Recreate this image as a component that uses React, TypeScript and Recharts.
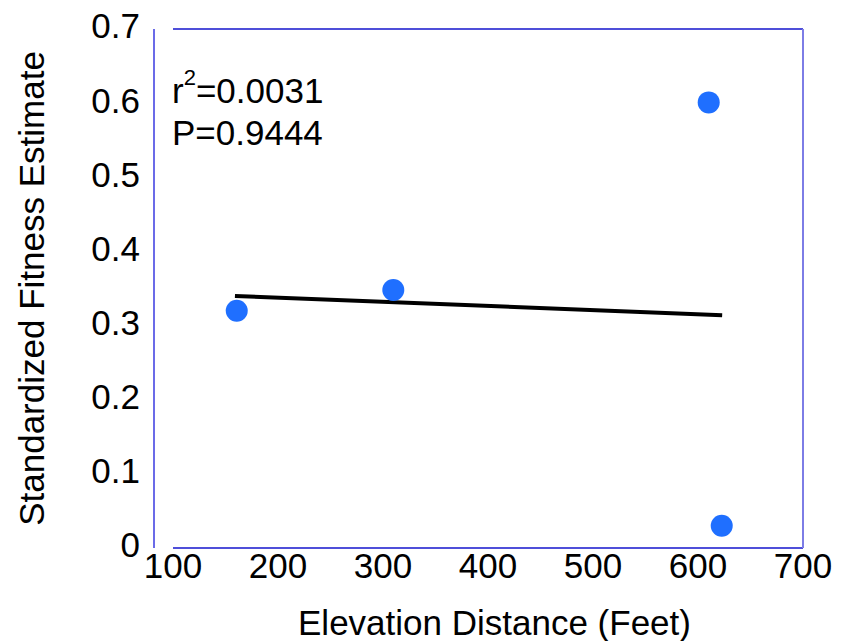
import React from 'react';
import { ScatterChart, Scatter, XAxis, YAxis, Label, ReferenceLine, Customized } from 'recharts';

const elevation = [160.7, 309.8, 610.2, 622.6];
const fitness = [0.32, 0.348, 0.601, 0.03];
const fitX = [159, 623];
const fitY = [0.34, 0.314];
const xTicks = [100, 200, 300, 400, 500, 600, 700];
const yTicks = [0, 0.1, 0.2, 0.3, 0.4, 0.5, 0.6, 0.7];

const points = elevation.map((x, i) => ({ x, y: fitness[i] }));
const fitLine = fitX.map((x, i) => ({ x, y: fitY[i] }));

const font = '"Liberation Sans", Arial, sans-serif';
const frame = '#1414cc';
const fs = 35;

const Stats = () => (
	<g fontFamily={font} fill="#000">
		<text x={172} y={103} fontSize={fs}>
			r<tspan fontSize={22} dy={-18}>2</tspan>
			<tspan dy={18}>=0.0031</tspan>
		</text>
		<text x={172} y={145} fontSize={fs}>P=0.9444</text>
	</g>
);

const noTick = () => <g />;

const YTick = (p: any) => (
	<text x={p.x} y={p.y - 3} dy="0.355em" textAnchor="end" fontSize={fs} fontFamily={font} fill="#000">
		{p.payload.value}
	</text>
);

export default function App() {
	return (
		<div style={{ position: 'absolute', left: 0, top: 0 }}>
			<ScatterChart width={852} height={641} margin={{ top: 29, right: 49, left: 0, bottom: 0 }}>
				<XAxis
					xAxisId="bottom"
					type="number"
					dataKey="x"
					domain={[81.9, 700]}
					allowDataOverflow
					ticks={xTicks}
					height={93}
					axisLine={false}
					tickLine={false}
					tickSize={0}
					tickMargin={5}
					tick={{ fontSize: fs, fill: '#000', fontFamily: font }}
				>
					<Label
						value="Elevation Distance (Feet)"
						position="insideBottom"
						offset={6}
						dx={16}
						style={{ fontSize: fs, fill: '#000', fontFamily: font }}
					/>
				</XAxis>
				<YAxis
					yAxisId="left"
					type="number"
					dataKey="y"
					domain={[0, 0.7]}
					ticks={yTicks}
					width={154}
					axisLine={{ stroke: '#3a3ae0', strokeWidth: 1.5 }}
					tickLine={false}
					tickSize={0}
					tickMargin={14}
					tick={YTick}
				>
					<Label
						value="Standardized Fitness Estimate"
						angle={-90}
						position="insideLeft"
						offset={32}
						style={{ fontSize: fs, fill: '#000', fontFamily: font, textAnchor: 'middle' }}
					/>
				</YAxis>
				<YAxis
					yAxisId="leftIn"
					type="number"
					dataKey="y"
					domain={[0, 0.7]}
					ticks={yTicks}
					mirror
					axisLine={false}
					tickLine={{ stroke: frame, strokeWidth: 1.5 }}
					tickSize={11}
					tick={noTick}
				/>
				<YAxis
					yAxisId="right"
					orientation="right"
					type="number"
					dataKey="y"
					domain={[0, 0.7]}
					ticks={yTicks}
					mirror
					axisLine={{ stroke: '#7d7de6', strokeWidth: 2 }}
					tickLine={{ stroke: frame, strokeWidth: 1.5 }}
					tickSize={11}
					tick={noTick}
				/>
				<ReferenceLine
					xAxisId="bottom"
					yAxisId="left"
					segment={[{ x: 100, y: 0 }, { x: 700, y: 0 }]}
					stroke={frame}
					strokeWidth={1.5}
				/>
				<ReferenceLine
					xAxisId="bottom"
					yAxisId="left"
					segment={[{ x: 100, y: 0.7 }, { x: 700, y: 0.7 }]}
					stroke={frame}
					strokeWidth={1.5}
				/>
				<Scatter
					xAxisId="bottom"
					yAxisId="left"
					data={fitLine}
					line={{ stroke: '#000', strokeWidth: 4 }}
					shape={() => <g />}
					isAnimationActive={false}
				/>
				<Scatter
					xAxisId="bottom"
					yAxisId="left"
					data={points}
					fill="#1f6fff"
					shape={(p: any) => <circle cx={p.cx} cy={p.cy} r={11} fill="#1f6fff" />}
					isAnimationActive={false}
				/>
				<Customized component={Stats} />
			</ScatterChart>
		</div>
	);
}
